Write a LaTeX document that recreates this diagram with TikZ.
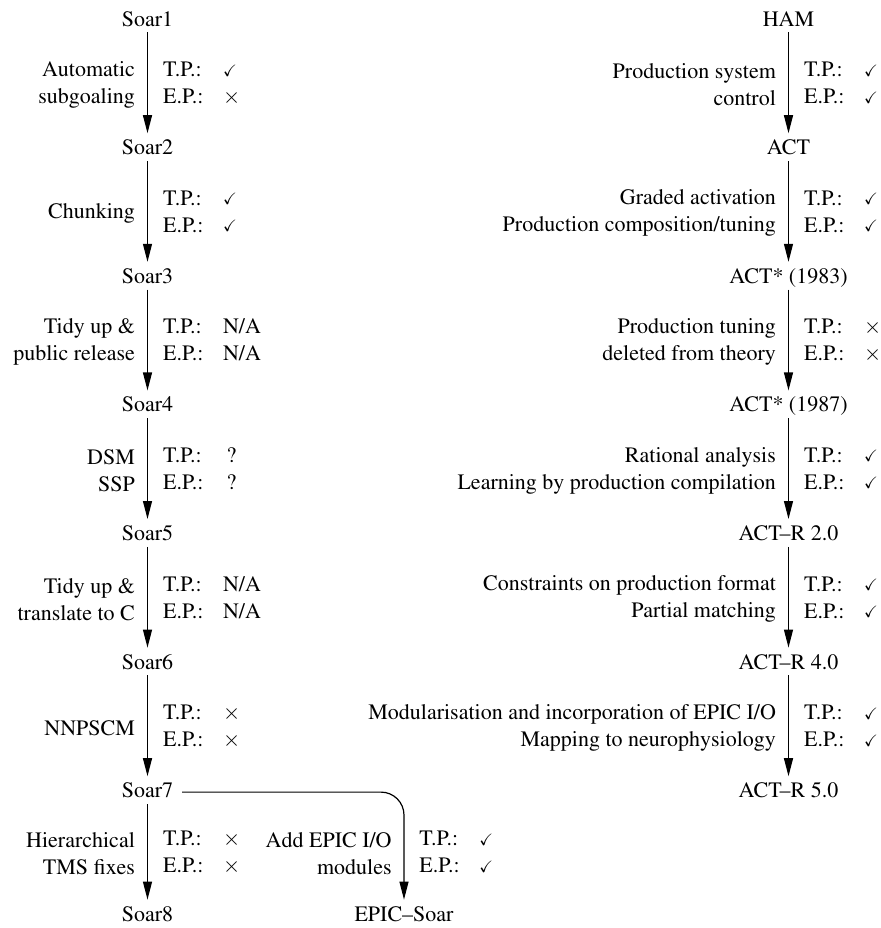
\documentclass[tikz,border=0pt]{standalone}
\usepackage[T1]{fontenc}
\usepackage{mathptmx}
\usepackage{amssymb}
\usepackage{tikz}
\usetikzlibrary{positioning,arrows.meta}
\newcommand{\yes}{\raisebox{0.3pt}{\scalebox{0.75}{$\checkmark$}}}
\newcommand{\no}{$\times$}
\newcommand{\tpep}[2]{%
  \begin{tabular}{@{}l@{}}\makebox[30pt][l]{T.P.:}#1\\\makebox[30pt][l]{E.P.:}#2\end{tabular}}
\tikzset{
  version/.style={
    inner sep=0.8pt,
    text height=7.7pt,
    text depth=2.2pt
  },
  evolve/.style={
    -{Triangle[length=9pt,width=4.5pt]},
    semithick,
    shorten >=2pt
  },
  change/.style={
    left=6pt,
    inner sep=0pt,
    align=right
  },
  evals/.style={
    right=7.5pt,
    inner sep=0pt
  }
}

\begin{document}
\begin{tikzpicture}[x=0.5pt, y=-0.5pt, font=\fontsize{11}{13.5}\selectfont]
  \useasboundingbox (0,0) rectangle (881,928);

  % Soar versions
  \node[version] (soar1) at (147.5,20.5) {Soar1};
  \node[version] (soar2) at (147.5,149.1) {Soar2};
  \node[version] (soar3) at (147.5,277.7) {Soar3};
  \node[version] (soar4) at (147.5,406.3) {Soar4};
  \node[version] (soar5) at (147.5,534.9) {Soar5};
  \node[version] (soar6) at (147.5,663.5) {Soar6};
  \node[version] (soar7) at (147.5,792.1) {Soar7};
  \node[version] (soar8) at (147.5,915.5) {Soar8};
  \node[version] (epic) at (404,915.5) {EPIC--Soar};

  % ACT versions
  \node[version] (ham) at (788.5,20.5) {HAM};
  \node[version] (act) at (788.5,149.1) {ACT};
  \node[version] (act83) at (788.5,277.7) {ACT* (1983)};
  \node[version] (act87) at (788.5,406.3) {ACT* (1987)};
  \node[version] (actr2) at (788.5,534.9) {ACT--R 2.0};
  \node[version] (actr4) at (788.5,663.5) {ACT--R 4.0};
  \node[version] (actr5) at (788.5,792.1) {ACT--R 5.0};

  % Soar changes
  \draw[evolve] (soar1) -- (soar2)
    node[midway, change] {Automatic\\subgoaling}
    node[midway, evals] {\tpep{\yes}{\no}};
  \draw[evolve] (soar2) -- (soar3)
    node[midway, change] {Chunking}
    node[midway, evals] {\tpep{\yes}{\yes}};
  \draw[evolve] (soar3) -- (soar4)
    node[midway, change] {Tidy up \&\\public release}
    node[midway, evals] {\tpep{N/A}{N/A}};
  \draw[evolve] (soar4) -- (soar5)
    node[midway, change] {DSM\\SSP}
    node[midway, evals] {\tpep{\,?}{\,?}};
  \draw[evolve] (soar5) -- (soar6)
    node[midway, change] {Tidy up \&\\translate to C}
    node[midway, evals] {\tpep{N/A}{N/A}};
  \draw[evolve] (soar6) -- (soar7)
    node[midway, change] {NNPSCM}
    node[midway, evals] {\tpep{\no}{\no}};
  \draw[evolve] (soar7) -- (soar8)
    coordinate[midway] (m78)
    node[midway, change] {Hierarchical\\TMS fixes}
    node[midway, evals] {\tpep{\no}{\no}};

  % Branch to EPIC-Soar
  \draw[evolve, rounded corners=11.5pt, shorten <=3.5pt] (soar7.east) -| (epic.north);
  \node[change] (epicchg) at (epic |- m78) {Add EPIC I/O\\modules};
  \node[evals] (epicval) at (epic |- m78) {\tpep{\yes}{\yes}};

  % ACT changes
  \draw[evolve] (ham) -- (act)
    node[midway, change] {Production system\\control}
    node[midway, evals] {\tpep{\yes}{\yes}};
  \draw[evolve] (act) -- (act83)
    node[midway, change] {Graded activation\\Production composition/tuning}
    node[midway, evals] {\tpep{\yes}{\yes}};
  \draw[evolve] (act83) -- (act87)
    node[midway, change] {Production tuning\\deleted from theory}
    node[midway, evals] {\tpep{\no}{\no}};
  \draw[evolve] (act87) -- (actr2)
    node[midway, change] {Rational analysis\\Learning by production compilation}
    node[midway, evals] {\tpep{\yes}{\yes}};
  \draw[evolve] (actr2) -- (actr4)
    node[midway, change] {Constraints on production format\\Partial matching}
    node[midway, evals] {\tpep{\yes}{\yes}};
  \draw[evolve] (actr4) -- (actr5)
    node[midway, change] {Modularisation and incorporation of EPIC I/O\\Mapping to neurophysiology}
    node[midway, evals] {\tpep{\yes}{\yes}};
\end{tikzpicture}
\end{document}
